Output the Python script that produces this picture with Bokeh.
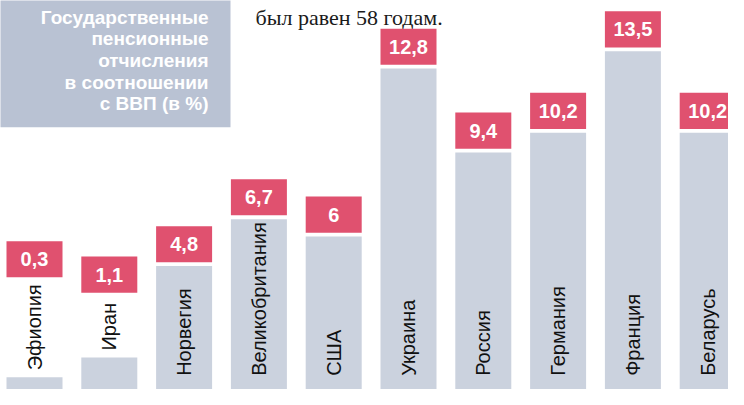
from bokeh.plotting import figure
from bokeh.models import Range1d, ColumnDataSource
from bokeh.core.properties import value
from bokeh.embed import file_html
from bokeh.resources import INLINE

# ---- data ----
countries = ["Эфиопия", "Иран", "Норвегия", "Великобритания", "США",
             "Украина", "Россия", "Германия", "Франция", "Беларусь"]
values = [0.3, 1.1, 4.8, 6.7, 6, 12.8, 9.4, 10.2, 13.5, 10.2]
title_lines = ["Государственные", "пенсионные", "отчисления",
               "в соотношении", "с ВВП (в %)"]
top_text = "был равен 58 годам."

# ---- styling / geometry (figure pixels) ----
W, H = 728, 389
UNIT_PX = 25.33                # pixels per percentage point
PITCH_PX = 74.8                # pixels per bar slot
FIRST_CENTER_PX = 34
BASE_PX = 394                  # baseline position from top (below the frame)
X0 = -FIRST_CENTER_PX / PITCH_PX
X1 = X0 + W / PITCH_PX
Y0 = -(BASE_PX - H) / UNIT_PX
Y1 = BASE_PX / UNIT_PX

def px_x(fx):
    return X0 + fx / PITCH_PX

def px_y(fy):
    return (BASE_PX - fy) / UNIT_PX

BAR_W = 56 / PITCH_PX
BAR_COLOR = "#cbd2de"
RED = "#e0516f"
BOX_COLOR = "#b9c2d3"
LABEL_FONT_PX = 20
FIT_CHAR = 0.55 * LABEL_FONT_PX / UNIT_PX
PLACE_CHAR = 0.6 * LABEL_FONT_PX / UNIT_PX
LABEL_BASE = 0.355
LABEL_GAP = 0.28
VBOX_H = 37 / UNIT_PX

idx = list(range(len(countries)))
label_y, box_y = [], []
for v, c in zip(values, countries):
    if v >= len(c) * FIT_CHAR + LABEL_BASE:
        ly = LABEL_BASE
        bb = v + 0.155
    else:
        ly = v + LABEL_GAP
        bb = ly + len(c) * PLACE_CHAR + 0.45
    label_y.append(ly)
    box_y.append(bb + VBOX_H / 2)

src = ColumnDataSource(dict(
    x=idx, top=values, name=countries, ly=label_y, by=box_y,
    vt=[(str(v) if v % 1 else str(int(v))).replace(".", ",") for v in values],
))

p = figure(width=W, height=H, x_range=Range1d(X0, X1), y_range=Range1d(Y0, Y1),
           output_backend="svg", toolbar_location=None, min_border=0,
           x_axis_type=None, y_axis_type=None)
p.grid.visible = False
p.outline_line_color = None
p.background_fill_color = "white"
p.border_fill_color = "white"

# title box
p.quad(left=px_x(-10), right=px_x(230), top=px_y(-10), bottom=px_y(130),
       fill_color=BOX_COLOR, line_color=None)
p.text(x=[px_x(208)] * len(title_lines),
       y=[px_y(17 + 22.2 * i) for i in range(len(title_lines))],
       text=title_lines, text_align="right", text_baseline="alphabetic",
       text_color="white", text_font=value("Liberation Sans"),
       text_font_style="bold", text_font_size="19px")

# top serif text
p.text(x=[px_x(255)], y=[px_y(17)], text=[top_text], text_align="left",
       text_baseline="alphabetic", text_color="#1a1a1a",
       text_font=value("Liberation Serif"), text_font_size="22px")

# bars
p.vbar(x="x", top="top", bottom=Y0 - 1, width=BAR_W, source=src,
       fill_color=BAR_COLOR, line_color=None)

# value boxes
p.rect(x="x", y="by", width=BAR_W, height=VBOX_H, source=src,
       fill_color=RED, line_color=None)
p.text(x="x", y="by", text="vt", source=src, text_align="center",
       text_baseline="middle", text_color="white",
       text_font=value("Liberation Sans"), text_font_style="bold",
       text_font_size="20px")

# country labels (rotated)
p.text(x="x", y="ly", text="name", source=src, angle=1.5708,
       text_align="left", text_baseline="middle", text_color="#111111",
       text_font=value("Liberation Sans"), text_font_size=f"{LABEL_FONT_PX}px")

open("out.html", "w").write(file_html(p, INLINE))
